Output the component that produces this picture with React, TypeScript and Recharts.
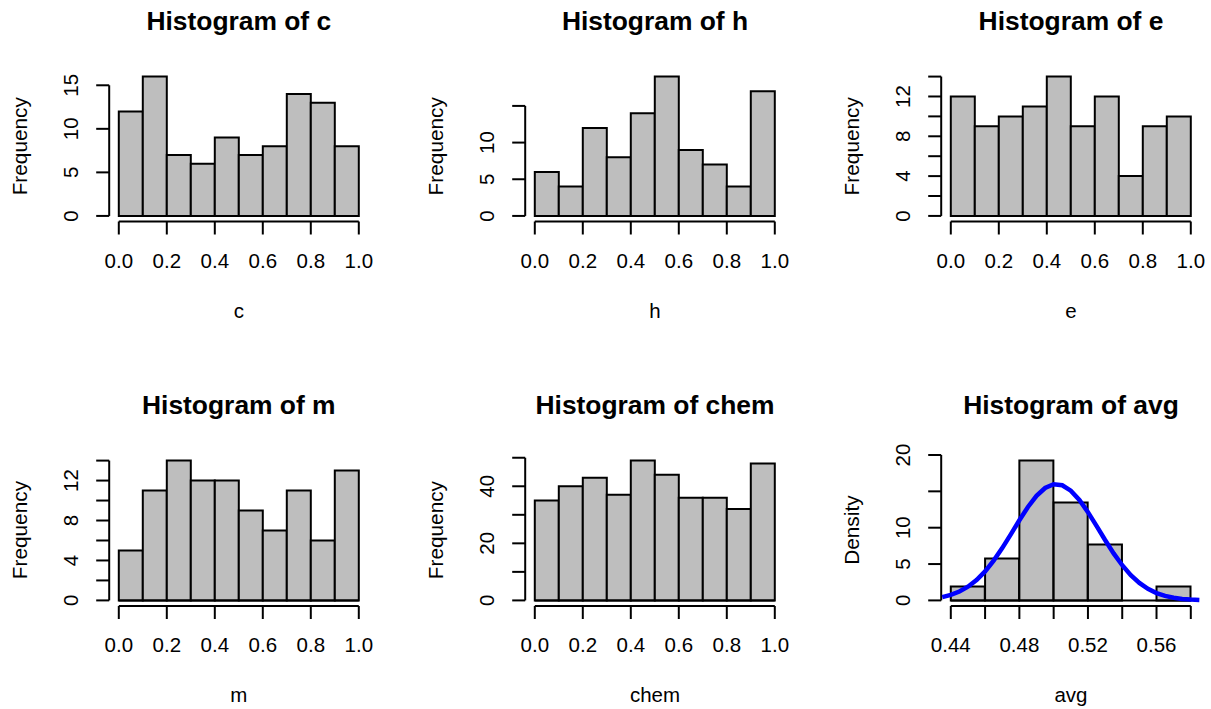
import React from 'react';
import { Bar, ComposedChart, Line, ReferenceLine, XAxis, YAxis } from 'recharts';

// bin edges and tick marks
const unitBreaks = [0, 0.1, 0.2, 0.3, 0.4, 0.5, 0.6, 0.7, 0.8, 0.9, 1.0];
const unitTicks = [0, 0.2, 0.4, 0.6, 0.8, 1.0];
const unitTickLabels = ['0.0', '0.2', '0.4', '0.6', '0.8', '1.0'];

const avgBreaks = [0.44, 0.46, 0.48, 0.5, 0.52, 0.54, 0.56, 0.58];
const avgTicks = [0.44, 0.46, 0.48, 0.5, 0.52, 0.54, 0.56, 0.58];
const avgTickLabels = ['0.44', '', '0.48', '', '0.52', '', '0.56', ''];

// counts per bin
const cCounts = [12, 16, 7, 6, 9, 7, 8, 14, 13, 8];
const hCounts = [6, 4, 12, 8, 14, 19, 9, 7, 4, 17];
const eCounts = [12, 9, 10, 11, 14, 9, 12, 4, 9, 10];
const mCounts = [5, 11, 14, 12, 12, 9, 7, 11, 6, 13];
const chemCounts = [35, 40, 43, 37, 49, 44, 36, 36, 32, 48];
const avgDensity = [1.92, 5.77, 19.23, 13.46, 7.69, 0, 1.92];

// y ticks
const cYTicks = [0, 5, 10, 15];
const cYLabels = ['0', '5', '10', '15'];
const hYTicks = [0, 5, 10, 15];
const hYLabels = ['0', '5', '10', ''];
const eYTicks = [0, 2, 4, 6, 8, 10, 12, 14];
const eYLabels = ['0', '', '4', '', '8', '', '12', ''];
const mYTicks = [0, 2, 4, 6, 8, 10, 12, 14];
const mYLabels = ['0', '', '4', '', '8', '', '12', ''];
const chemYTicks = [0, 10, 20, 30, 40, 50];
const chemYLabels = ['0', '', '20', '', '40', ''];
const avgYTicks = [0, 5, 10, 15, 20];
const avgYLabels = ['0', '5', '10', '', '20'];

// fitted normal curve over avg
const curveX = [0.435, 0.44, 0.445, 0.45, 0.455, 0.46, 0.465, 0.47, 0.475, 0.48, 0.485, 0.49, 0.495, 0.5, 0.505,
  0.51, 0.515, 0.52, 0.525, 0.53, 0.535, 0.54, 0.545, 0.55, 0.555, 0.56, 0.565, 0.57, 0.575, 0.58, 0.585];
const curveY = [0.45, 0.76, 1.22, 1.88, 2.8, 3.99, 5.47, 7.19, 9.08, 11.02, 12.85, 14.38, 15.46, 15.97, 15.84,
  15.09, 13.81, 12.14, 10.25, 8.31, 6.47, 4.84, 3.48, 2.4, 1.59, 1.01, 0.62, 0.36, 0.2, 0.11, 0.06];

const FONT = '"Liberation Sans", Arial, Helvetica, sans-serif';
const colLeft = [109.2, 525.4, 941.4];
const rowTop = [71, 454.6];
const rowH = [150.5, 151];
const PLOT_W = 259.2;
const titleBase = [29.5, 413.5];
const xlabBase = [318, 702];
const CW = 400;
const CH = 380;
const OFF_L = 109.2;
const OFF_T = 71;

const panels = [
  { title: 'Histogram of c', xlab: 'c', ylab: 'Frequency', counts: cCounts, breaks: unitBreaks, xTicks: unitTicks, xLabels: unitTickLabels, yTicks: cYTicks, yLabels: cYLabels, col: 0, row: 0 },
  { title: 'Histogram of h', xlab: 'h', ylab: 'Frequency', counts: hCounts, breaks: unitBreaks, xTicks: unitTicks, xLabels: unitTickLabels, yTicks: hYTicks, yLabels: hYLabels, col: 1, row: 0 },
  { title: 'Histogram of e', xlab: 'e', ylab: 'Frequency', counts: eCounts, breaks: unitBreaks, xTicks: unitTicks, xLabels: unitTickLabels, yTicks: eYTicks, yLabels: eYLabels, col: 2, row: 0 },
  { title: 'Histogram of m', xlab: 'm', ylab: 'Frequency', counts: mCounts, breaks: unitBreaks, xTicks: unitTicks, xLabels: unitTickLabels, yTicks: mYTicks, yLabels: mYLabels, col: 0, row: 1 },
  { title: 'Histogram of chem', xlab: 'chem', ylab: 'Frequency', counts: chemCounts, breaks: unitBreaks, xTicks: unitTicks, xLabels: unitTickLabels, yTicks: chemYTicks, yLabels: chemYLabels, col: 1, row: 1 },
  { title: 'Histogram of avg', xlab: 'avg', ylab: 'Density', counts: avgDensity, breaks: avgBreaks, xTicks: avgTicks, xLabels: avgTickLabels, yTicks: avgYTicks, yLabels: avgYLabels, col: 2, row: 1, curve: true },
];

const findIdx = (arr: number[], v: number) => arr.findIndex((t) => Math.abs(t - v) < 1e-9);

function HistPanel({ p }: { p: any }) {
  const left = colLeft[p.col];
  const top = rowTop[p.row];
  const h = rowH[p.row];
  const n = p.counts.length;
  const b0 = p.breaks[0];
  const b1 = p.breaks[n];
  const xr = b1 - b0;
  const yMax = Math.max(...p.counts);
  const pad = (PLOT_W * 0.04) / 1.08;
  const data = p.counts.map((v: number, i: number) => ({ bin: i, v }));
  const curve = p.curve ? curveX.map((x, i) => ({ x, y: curveY[i] })) : null;
  const xDom = [b0 - 0.04 * xr, b1 + 0.04 * xr];
  const yDom = [-0.04 * yMax, 1.04 * yMax];
  const lastX = p.xTicks[p.xTicks.length - 1];
  const lastY = p.yTicks[p.yTicks.length - 1];

  const yTick = (props: any) => {
    const i = findIdx(p.yTicks, props.payload.value);
    const lab = p.yLabels[i];
    if (!lab) return <g />;
    const tx = OFF_L - 31;
    return (
      <text x={tx} y={props.y} transform={`rotate(-90 ${tx} ${props.y})`} textAnchor="middle"
        fontFamily={FONT} fontSize={20.5} fill="#000">{lab}</text>
    );
  };
  const xTick = (props: any) => {
    const i = findIdx(p.xTicks, props.payload.value);
    const lab = p.xLabels[i];
    if (!lab) return <g />;
    return (
      <text x={props.x} y={OFF_T + h + 46} textAnchor="middle" fontFamily={FONT} fontSize={20.5} fill="#000">{lab}</text>
    );
  };

  return (
    <div style={{ position: 'absolute', left: left - OFF_L, top: top - OFF_T, width: CW, height: CH }}>
      <ComposedChart
        width={CW}
        height={CH}
        data={data}
        barCategoryGap={0}
        barGap={0}
        margin={{ top: OFF_T, left: OFF_L - 60, right: CW - OFF_L - PLOT_W, bottom: CH - OFF_T - h - 60 }}
      >
        <XAxis
          xAxisId="num"
          dataKey="x"
          type="number"
          domain={xDom}
          allowDataOverflow
          ticks={p.xTicks}
          interval={0}
          height={60}
          axisLine={false}
          tickSize={13}
          tickLine={{ stroke: '#000', strokeWidth: 2 }}
          tick={xTick}
        />
        <XAxis xAxisId="bins" dataKey="bin" type="category" hide height={0} padding={{ left: pad, right: pad }} />
        <YAxis
          yAxisId="y"
          type="number"
          domain={yDom}
          allowDataOverflow
          ticks={p.yTicks}
          interval={0}
          width={60}
          axisLine={false}
          tickSize={13}
          tickLine={{ stroke: '#000', strokeWidth: 2 }}
          tick={yTick}
        />
        <Bar xAxisId="bins" yAxisId="y" dataKey="v" fill="#BEBEBE" stroke="#000" strokeWidth={2} isAnimationActive={false} />
        <ReferenceLine xAxisId="num" yAxisId="y" ifOverflow="visible" stroke="#000" strokeWidth={2}
          segment={[{ x: b0, y: 0 }, { x: b1, y: 0 }]} />
        <ReferenceLine xAxisId="num" yAxisId="y" ifOverflow="visible" stroke="#000" strokeWidth={2}
          segment={[{ x: p.xTicks[0], y: yDom[0] }, { x: lastX, y: yDom[0] }]} />
        <ReferenceLine xAxisId="num" yAxisId="y" ifOverflow="visible" stroke="#000" strokeWidth={2}
          segment={[{ x: xDom[0], y: p.yTicks[0] }, { x: xDom[0], y: lastY }]} />
        {curve && (
          <Line data={curve} xAxisId="num" yAxisId="y" dataKey="y" type="linear" stroke="#0000FF"
            strokeWidth={4.5} dot={false} activeDot={false} isAnimationActive={false} />
        )}
      </ComposedChart>
    </div>
  );
}

export default function App() {
  return (
    <div style={{ position: 'absolute', left: 0, top: 0, width: 1211, height: 709, background: '#fff', overflow: 'hidden' }}>
      {panels.map((p) => (
        <HistPanel key={p.title} p={p} />
      ))}
      <svg width={1211} height={709} style={{ position: 'absolute', left: 0, top: 0, pointerEvents: 'none' }}>
        {panels.map((p) => {
          const cx = colLeft[p.col] + PLOT_W / 2;
          const ly = rowTop[p.row] + rowH[p.row] / 2;
          const lx = colLeft[p.col] - 82;
          return (
            <g key={p.title} fontFamily={FONT} fill="#000">
              <text x={cx} y={titleBase[p.row]} textAnchor="middle" fontSize={26.4} fontWeight="bold">{p.title}</text>
              <text x={cx} y={xlabBase[p.row]} textAnchor="middle" fontSize={20.5}>{p.xlab}</text>
              <text x={lx} y={ly} transform={`rotate(-90 ${lx} ${ly})`} textAnchor="middle" fontSize={20.8}>{p.ylab}</text>
            </g>
          );
        })}
      </svg>
    </div>
  );
}
